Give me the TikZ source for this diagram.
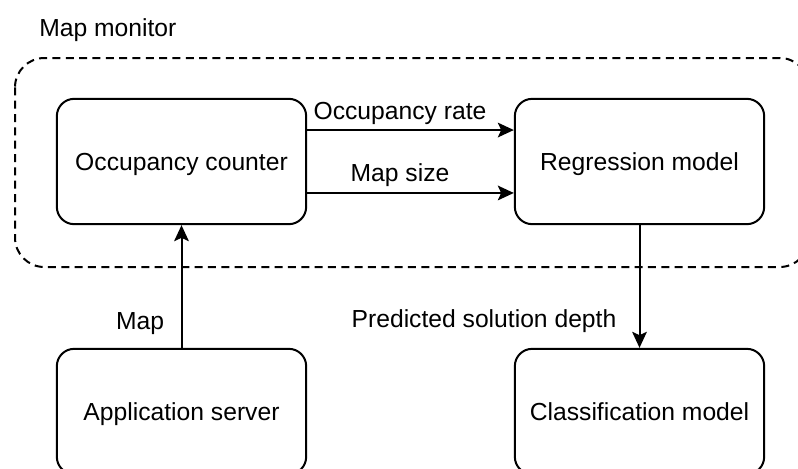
\documentclass[tikz,border=0pt]{standalone}
\usepackage{fontspec}
\setmainfont{Liberation Sans}
\usetikzlibrary{arrows.meta}
\begin{document}
\begin{tikzpicture}[x=0.75pt,y=-0.75pt,
  txt/.style={font=\fontsize{18.5}{22}\selectfont, text height=13.25pt, text depth=0pt},
  box/.style={txt, draw, line width=1.5pt, rounded corners=13pt,
    minimum width=187pt, minimum height=94pt, inner sep=0pt},
  lbl/.style={txt, inner sep=0pt},
  group/.style={draw, line width=1.5pt, dash pattern=on 6pt off 4pt, rounded corners=22pt},
  arr/.style={line width=1.5pt, -{Stealth[length=12pt,width=11pt,inset=2.5pt]}}]
\useasboundingbox (0,0) rectangle (798,468);

% monitor group
\draw[group] (15,58) rectangle (809,267);
\node[lbl, anchor=west] (title) at (39,27.7) {Map monitor};

% components
\node[box] (occ) at (181.5,161.5) {Occupancy counter};
\node[box] (reg) at (639.5,161.5) {Regression model};
\node[box] (app) at (181.5,411.5) {Application server};
\node[box] (cls) at (639.5,411.5) {Classification model};

% data flow
\draw[arr] ([yshift=23.6pt]occ.east) -- ([yshift=23.6pt]reg.west);
\draw[arr] ([yshift=-23.6pt]occ.east) -- ([yshift=-23.6pt]reg.west);
\draw[arr] (app) -- (occ);
\draw[arr] (reg) -- (cls);

% edge labels
\node[lbl] (lrate) at (400,111) {Occupancy rate};
\node[lbl] (lsize) at (400,173) {Map size};
\node[lbl] (lmap) at (140,321) {Map};
\node[lbl] (ldepth) at (484,319) {Predicted solution depth};
\end{tikzpicture}
\end{document}
